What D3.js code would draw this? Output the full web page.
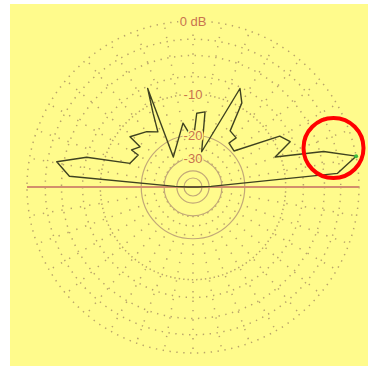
<!DOCTYPE html>
<html>
<head>
<meta charset="utf-8">
<script src="https://cdn.jsdelivr.net/npm/d3@7"></script>
<style>
  html, body { margin: 0; padding: 0; background: #ffffff; }
  svg { display: block; }
</style>
</head>
<body>
<svg id="chart" width="369" height="371"></svg>
<script>
// Elevation pattern: angle above the right-hand horizon (degrees) and relative gain (dB)
const elevationDeg = [0, 2, 5.4, 10.7, 15.2, 20.1, 25.0, 30.4, 41.3, 50.7, 48.7, 56.5, 59.8, 64.5,
  76.2, 80.9, 87.1, 89.6, 98.9, 123.3, 114.7, 118.4, 122.5, 129.9, 141.4, 142.8, 148.9, 149.7,
  159.4, 164.4, 169.5, 175, 178, 180];
const gainDb = [-60, -38, -2.3, 0, -3.5, -11.0, -7.5, -8.6, -19.1, -18.4, -16.0, -15.5, -9.2, -7.2,
  -26.1, -13.4, -13.9, -21.7, -16.2, -26.3, -7.3, -11.7, -16.0, -14.3, -12.4, -15.7, -14.4, -16.5,
  -15.5, -7.0, -3.1, -5.0, -38, -60];

// Grid rings (dB) and their labels
const dottedRings = [0, -2, -4, -7, -10];
const solidRings = [-20, -30, -40, -50];
const ringLabelDb = [0, -10, -20, -30];
const ringLabelText = ["0 dB", "-10", "-20", "-30"];
const spokeStepDeg = 10;

const cx = 193, cy = 187, R = 166;

const svg = d3.select("#chart");

// ARRL-style log radius: every 2 dB shrinks the radius by a factor 0.89
const radiusScale = d3.scalePow().exponent(0.2530).domain([0, 1]).range([0, R]);
const rOf = db => radiusScale(Math.pow(10, db / 10));
// Elevation angle -> lineRadial angle (clockwise from 12 o'clock)
const angleScale = d3.scaleLinear().domain([0, 180]).range([Math.PI / 2, -Math.PI / 2]);

svg.append("rect").attr("x", 10).attr("y", 4).attr("width", 358).attr("height", 362)
  .attr("fill", "#fffb8c");

const g = svg.append("g").attr("transform", `translate(${cx},${cy})`);

// Spokes
const spokes = d3.range(0, 360, spokeStepDeg);
g.selectAll("line.spoke").data(spokes).join("line")
  .attr("class", "spoke")
  .attr("x1", d => rOf(-30) * Math.cos(d * Math.PI / 180))
  .attr("y1", d => -rOf(-30) * Math.sin(d * Math.PI / 180))
  .attr("x2", d => R * Math.cos(d * Math.PI / 180))
  .attr("y2", d => -R * Math.sin(d * Math.PI / 180))
  .attr("stroke", "#b9a46a").attr("stroke-width", 1.5)
  .attr("stroke-dasharray", "1.4 8").attr("stroke-linecap", "butt");

g.selectAll("circle.dotted").data(dottedRings).join("circle")
  .attr("class", "dotted")
  .attr("r", d => rOf(d))
  .attr("fill", "none").attr("stroke", "#b9a46a").attr("stroke-width", 1.5)
  .attr("stroke-dasharray", d => d === -10 ? "1.4 3" : "1.4 5.5");

g.selectAll("circle.solid").data(solidRings).join("circle")
  .attr("class", "solid")
  .attr("r", d => rOf(d))
  .attr("fill", "none").attr("stroke", "#c2a878").attr("stroke-width", 1.2);

// Ground line
g.append("line").attr("x1", -R).attr("x2", R).attr("y1", 0).attr("y2", 0)
  .attr("stroke", "#d38f6c").attr("stroke-width", 2);

// Pattern trace
const pts = elevationDeg.map((a, i) => ({ a, db: gainDb[i] }));
const line = d3.lineRadial()
  .angle(d => angleScale(d.a))
  .radius(d => rOf(d.db));
g.append("path").attr("d", line(pts) + "Z")
  .attr("fill", "none").attr("stroke", "#3f4220").attr("stroke-width", 1.4)
  .attr("stroke-linejoin", "round");

// Marker at the pattern maximum
const peak = pts[d3.maxIndex(pts, d => d.db)];
g.append("circle")
  .attr("cx", rOf(peak.db) * Math.sin(angleScale(peak.a)))
  .attr("cy", -rOf(peak.db) * Math.cos(angleScale(peak.a)))
  .attr("r", 2).attr("fill", "#3dbb3d");

// Ring labels
g.selectAll("text.lbl").data(ringLabelDb).join("text")
  .attr("class", "lbl")
  .attr("x", 0).attr("y", d => -rOf(d))
  .attr("dy", "0.36em")
  .attr("text-anchor", "middle")
  .attr("font-family", "Liberation Sans, Arial, sans-serif")
  .attr("font-size", 13)
  .attr("fill", "#c8744f")
  .attr("paint-order", "stroke")
  .attr("stroke", "#fffb8c").attr("stroke-width", 3)
  .text((d, i) => ringLabelText[i]);

// Highlight ring around the maximum
svg.append("circle").attr("cx", 333.5).attr("cy", 148).attr("r", 30)
  .attr("fill", "none").attr("stroke", "#ff0000").attr("stroke-width", 4);
</script>
</body>
</html>
